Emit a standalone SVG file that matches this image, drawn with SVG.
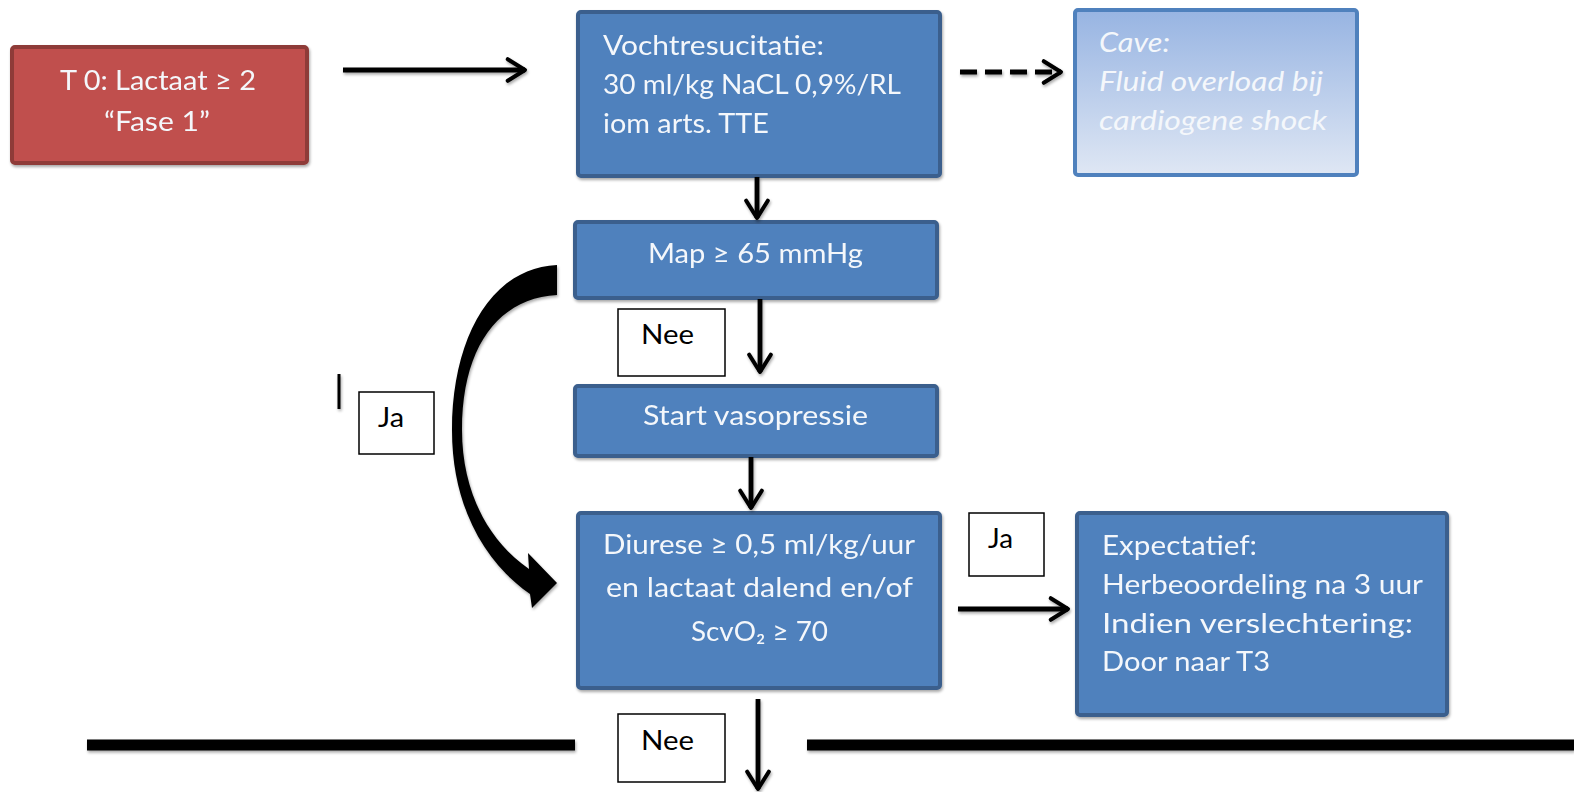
<svg xmlns="http://www.w3.org/2000/svg" width="1574" height="792" viewBox="0 0 1574 792">
<defs>
<linearGradient id="caveGrad" x1="0" y1="0" x2="0" y2="1">
<stop offset="0" stop-color="#97B4E2"/>
<stop offset="1" stop-color="#DFE7F4"/>
</linearGradient>
<filter id="sh" x="-10%" y="-10%" width="130%" height="130%">
<feGaussianBlur in="SourceAlpha" stdDeviation="1.5"/>
<feOffset dx="1" dy="2" result="b"/>
<feComponentTransfer><feFuncA type="linear" slope="0.35"/></feComponentTransfer>
<feMerge><feMergeNode/><feMergeNode in="SourceGraphic"/></feMerge>
</filter>
<marker id="ah" viewBox="0 0 20 20" refX="17" refY="10" markerWidth="6" markerHeight="6" markerUnits="strokeWidth" orient="auto">
<path d="M5,2.5 L17,10 L5,17.5" fill="none" stroke="#000" stroke-width="2.8" stroke-linecap="round" stroke-linejoin="round"/>
</marker>
</defs>
<style>
.blue{fill:#4F81BD;stroke:#3A5F8D;stroke-width:4;}
.red{fill:#C0504D;stroke:#8E3A37;stroke-width:4;}
.cave{fill:url(#caveGrad);stroke:#4F81BD;stroke-width:4;}
.lbl{fill:#fff;stroke:#000;stroke-width:1.5;}
.t{font-family:Lato,"Liberation Sans",sans-serif;font-size:27px;fill:#F4F7FB;}
.ti{font-family:Lato,"Liberation Sans",sans-serif;font-size:27px;fill:#F4F7FB;font-style:italic;}
.tb{font-family:Lato,"Liberation Sans",sans-serif;font-size:27px;fill:#000;}
.ar{fill:none;stroke:#000;stroke-width:4.8;marker-end:url(#ah);}
.bar{fill:none;stroke:#000;stroke-width:11;}
</style>
<rect width="1574" height="792" fill="#fff"/>

<g id="node-t0" filter="url(#sh)">
<rect class="red" x="12" y="47" width="295" height="116" rx="3"/>
<text class="t" x="60" y="90" textLength="196" lengthAdjust="spacingAndGlyphs">T 0: Lactaat ≥ 2</text>
<text class="t" x="104" y="131" textLength="106" lengthAdjust="spacingAndGlyphs">“Fase 1”</text>
</g>

<g id="node-vocht" filter="url(#sh)">
<rect class="blue" x="578" y="12" width="362" height="164" rx="3"/>
<text class="t" x="603" y="55" textLength="221" lengthAdjust="spacingAndGlyphs">Vochtresucitatie:</text>
<text class="t" x="603" y="94" textLength="298" lengthAdjust="spacingAndGlyphs">30  ml/kg NaCL 0,9%/RL</text>
<text class="t" x="603" y="133" textLength="166" lengthAdjust="spacingAndGlyphs">iom arts. TTE</text>
</g>

<g id="node-cave">
<rect class="cave" x="1075" y="10" width="282" height="165" rx="3"/>
<text class="ti" x="1099" y="52" textLength="71" lengthAdjust="spacingAndGlyphs">Cave:</text>
<text class="ti" x="1099" y="91" textLength="224" lengthAdjust="spacingAndGlyphs">Fluid  overload bij</text>
<text class="ti" x="1099" y="130" textLength="228" lengthAdjust="spacingAndGlyphs">cardiogene shock</text>
</g>

<g id="node-map" filter="url(#sh)">
<rect class="blue" x="575" y="222" width="362" height="76" rx="3"/>
<text class="t" x="648" y="263" textLength="215" lengthAdjust="spacingAndGlyphs">Map ≥ 65  mmHg</text>
</g>

<g id="node-start" filter="url(#sh)">
<rect class="blue" x="575" y="386" width="362" height="70" rx="3"/>
<text class="t" x="643" y="425" textLength="225" lengthAdjust="spacingAndGlyphs">Start vasopressie</text>
</g>

<g id="node-diurese" filter="url(#sh)">
<rect class="blue" x="578" y="513" width="362" height="175" rx="3"/>
<text class="t" x="603" y="554" textLength="312" lengthAdjust="spacingAndGlyphs">Diurese ≥ 0,5 ml/kg/uur</text>
<text class="t" x="606" y="597" textLength="307" lengthAdjust="spacingAndGlyphs">en lactaat dalend en/of</text>
<text class="t" x="691" y="641" textLength="137" lengthAdjust="spacingAndGlyphs">ScvO₂ ≥ 70</text>
</g>

<g id="node-expectatief" filter="url(#sh)">
<rect class="blue" x="1077" y="513" width="370" height="202" rx="3"/>
<text class="t" x="1102" y="555" textLength="155" lengthAdjust="spacingAndGlyphs">Expectatief:</text>
<text class="t" x="1102" y="594" textLength="321" lengthAdjust="spacingAndGlyphs">Herbeoordeling na 3 uur</text>
<text class="t" x="1102" y="633" textLength="311" lengthAdjust="spacingAndGlyphs">Indien verslechtering:</text>
<text class="t" x="1102" y="671" textLength="168" lengthAdjust="spacingAndGlyphs">Door naar T3</text>
</g>

<g id="label-nee1">
<rect class="lbl" x="618" y="309" width="107" height="67"/>
<text class="tb" x="641" y="344" textLength="53" lengthAdjust="spacingAndGlyphs">Nee</text>
</g>

<g id="label-ja1">
<rect class="lbl" x="359" y="392" width="75" height="62"/>
<text class="tb" x="378" y="427" textLength="26" lengthAdjust="spacingAndGlyphs">Ja</text>
</g>

<g id="label-ja2">
<rect class="lbl" x="969" y="513" width="75" height="63"/>
<text class="tb" x="988" y="548" textLength="25" lengthAdjust="spacingAndGlyphs">Ja</text>
</g>

<g id="label-nee2">
<rect class="lbl" x="618" y="714" width="107" height="68"/>
<text class="tb" x="641" y="750" textLength="53" lengthAdjust="spacingAndGlyphs">Nee</text>
</g>

<g id="connectors" filter="url(#sh)">
<line class="ar" x1="343" y1="70" x2="525" y2="70"/>
<line class="ar" x1="960" y1="72" x2="1061" y2="72" stroke-dasharray="17 8"/>
<line class="ar" x1="757" y1="177" x2="757" y2="218"/>
<line class="ar" x1="760" y1="299" x2="760" y2="372"/>
<line class="ar" x1="751" y1="457" x2="751" y2="508"/>
<line class="ar" x1="958" y1="609" x2="1068" y2="609"/>
<line class="ar" x1="758" y1="699" x2="758" y2="789"/>
<path d="M557,265 C490,268 452,340 452,430 C452,510 488,565 530,594 L532,608 L557,583 L528,553 L529,569 C487,540 462,490 462,430 C462,345 500,298 557,295 Z" fill="#000"/>
<line class="bar" x1="87" y1="745" x2="575" y2="745"/>
<line class="bar" x1="807" y1="745" x2="1574" y2="745"/>
<line x1="339" y1="374" x2="339" y2="409" stroke="#000" stroke-width="3"/>
</g>
</svg>
